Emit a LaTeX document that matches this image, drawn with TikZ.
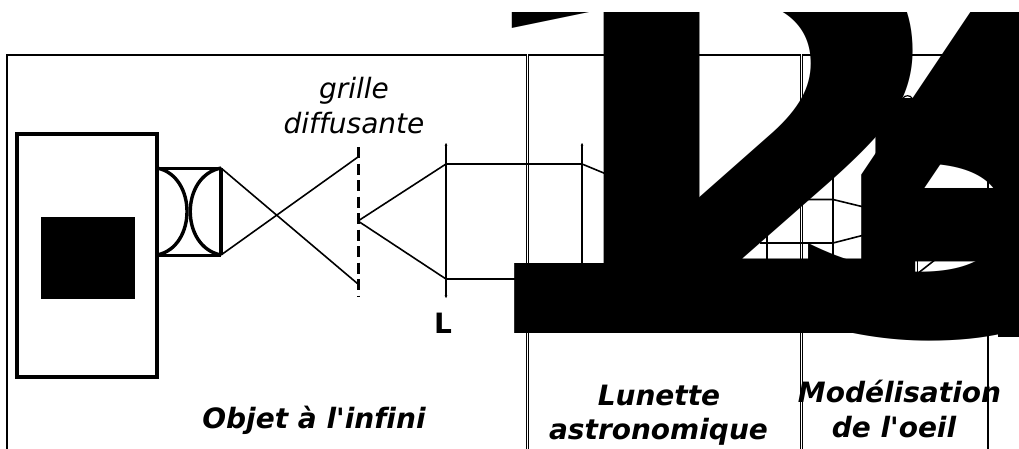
\documentclass[tikz,border=0pt]{standalone}
\usepackage{fontspec}
\setmainfont[Ligatures={TeXOff,NoCommon}]{DejaVu Sans}
\usetikzlibrary{arrows.meta}
\tikzset{
  frame/.style={draw=black,line width=1.2pt},
  ray/.style={draw=black,line width=1.6pt},
  lensline/.style={draw=black,line width=1.3pt,{Stealth[length=2.5pt,width=2.5pt]}-{Stealth[length=2.5pt,width=2.5pt]}},
  thick box/.style={draw=black,line width=4pt},
  lens arc/.style={draw=black,line width=3.4pt},
  caption/.style={font=\fontsize{28}{28}\selectfont\bfseries\itshape,inner sep=0pt,anchor=base},
  note/.style={font=\fontsize{28}{28}\selectfont\itshape,inner sep=0pt,anchor=base},
  huge glyph/.style={font=\fontsize{#1}{#1}\selectfont\bfseries,inner sep=0pt,anchor=base west,text=black},
}
\begin{document}
\begin{tikzpicture}[x=1pt,y=-1pt]
\useasboundingbox (0,0) rectangle (1019,448);
% frames
\draw[frame] (7,460) -- (7,55) -- (526.2,55) -- (526.2,460);
\draw[frame] (528.6,460) -- (528.6,55) -- (800.6,55) -- (800.6,460);
\draw[frame] (802.2,460) -- (802.2,55) -- (988,55) -- (988,460);
% source
\draw[thick box] (17,134) rectangle (157,377);
\coordinate (lensTL) at (157,168);
\coordinate (lensTR) at (221,168);
\coordinate (lensBL) at (157,255);
\coordinate (lensBR) at (221,255);
\fill[black] (41,217) rectangle (135,299);
\draw[draw=black,line width=3pt] (lensTL) -- (lensTR) (lensBL) -- (lensBR);
\draw[draw=black,line width=3pt] (lensTL) -- (lensBL);
\draw[draw=black,line width=4pt] (lensTR) -- (lensBR);
\draw[lens arc] (lensTL) .. controls (197,176) and (197,247) .. (lensBL);
\draw[lens arc] (lensTR) .. controls (180,176) and (180,247) .. (lensBR);
% grille
\coordinate (gridT) at (358,147);
\coordinate (gridB) at (358,297);
\coordinate (gridM) at (358,221);
\coordinate (gridU) at (358,157);
\coordinate (gridD) at (358,284);
\draw[draw=black,line width=3pt,dash pattern=on 11pt off 5.5pt] (gridT) -- (gridB);
\draw[ray] (lensTR) -- (gridD);
\draw[ray] (lensBR) -- (gridU);
% lens L
\coordinate (LT) at (446,143);
\coordinate (LB) at (446,298);
\coordinate (Lu) at (446,164);
\coordinate (Ld) at (446,279);
\draw[lensline] (LT) -- (LB);
\draw[ray] (gridM) -- (Lu);
\draw[ray] (gridM) -- (Ld);
% telescope
\coordinate (O1T) at (582,143);
\coordinate (O1B) at (582,290);
\coordinate (O1u) at (582,164);
\coordinate (raycross) at (760,243);
\coordinate (O2T) at (767,230);
\coordinate (O2B) at (767,290);
\coordinate (E1T) at (833,170);
\coordinate (E1B) at (833,290);
\coordinate (E1u) at (833,199.5);
\coordinate (E1d) at (833,243);
\coordinate (ru) at (795,199.5);
\coordinate (hu) at (870,208.5);
\coordinate (hd) at (870,233.5);
\coordinate (retT) at (917.5,250);
\coordinate (retB) at (917.5,280);
\coordinate (focA) at (917,274);
\coordinate (focB) at (936,259);
\draw[lensline] (O1T) -- (O1B);
\draw[ray] (Lu) -- (O1u) -- (640,188);
\draw[ray] (Ld) -- (560,279);
\draw[ray,line width=1.2pt] (O2T) -- (O2B);
\draw[ray,line width=1.2pt] (E1T) -- (E1B);
\draw[ray] (ru) -- (E1u) -- (hu);
\draw[ray] (raycross) -- (E1d) -- (hd);
\draw[ray] (retT) -- (retB);
\draw[ray] (focA) -- (focB);
% labels
\node[note] (gr1) at (354,98) {grille};
\node[note] (gr2) at (354,133) {diffusante};
\node[font=\fontsize{28}{28}\selectfont\bfseries,inner sep=0pt,anchor=base] (Lname) at (443,333) {L};
\node[caption] (c1) at (314,428) {Objet à l'infini};
\node[caption] (c2) at (659,405) {Lunette};
\node[caption] (c3) at (658.5,439) {astronomique};
\node[caption] (c4) at (899.5,402) {Modélisation};
\node[caption] (c5) at (894,437) {de l'oeil};
% oversized numerals
\begin{scope}
\clip (0,12) rectangle (1019,448);
\node[huge glyph=539] (g1) at (451,333) {1};
\node[huge glyph=539] (g2) at (587,333) {2};
\node[huge glyph=539] (g3) at (772,333) {3};
\node[huge glyph=539] (g4) at (837,333) {4};
\fill[black] (998,250) rectangle (1019,337);
\fill[black] (900,258) rectangle (912,276);
\end{scope}
\draw[draw=black,line width=1.2pt] (903,98) .. controls (905,95) and (910,95) .. (912,98);
\end{tikzpicture}
\end{document}
